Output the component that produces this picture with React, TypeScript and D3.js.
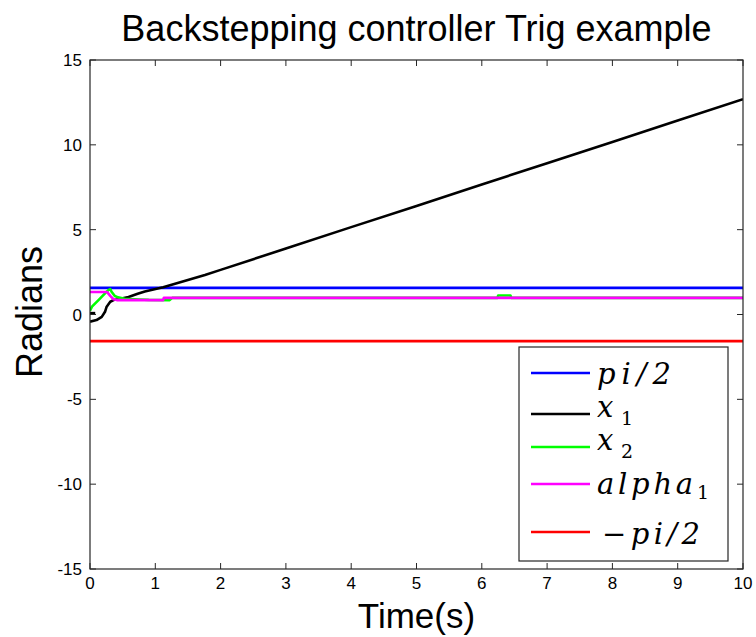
import React from "react";
import * as d3 from "d3";

// ---- data ----
const piHalfT = [0, 10];
const piHalfV = [1.5708, 1.5708];
const negPiHalfV = [-1.5708, -1.5708];

const x1T = [0, 0.1, 0.18, 0.23, 0.255, 0.31, 0.36, 0.43, 0.59, 0.73, 0.84, 1.12, 1.76, 2, 3, 4, 5, 6, 7, 8, 9, 10];
const x1V = [-0.42, -0.33, -0.14, 0.16, 0.46, 0.75, 0.85, 0.9, 1.03, 1.22, 1.36, 1.6, 2.33, 2.63, 3.89, 5.15, 6.4, 7.66, 8.92, 10.17, 11.43, 12.69];
const x1DashT = [0, 0.08];
const x1DashV = [0.08, 0.08];

const x2T = [0, 0.03, 0.13, 0.23, 0.28, 0.31, 0.33, 0.38, 0.43, 0.53, 0.76, 0.9, 1.22, 1.26, 6.24, 6.25, 6.44, 6.45, 10];
const x2V = [0.22, 0.46, 0.85, 1.25, 1.44, 1.5, 1.34, 1.09, 1.01, 0.93, 0.88, 0.86, 0.85, 0.98, 0.98, 1.12, 1.12, 0.98, 0.98];

const alphaT = [0, 0.26, 0.31, 0.36, 0.41, 1.12, 1.13, 10];
const alphaV = [1.33, 1.33, 1.1, 0.9, 0.85, 0.85, 0.98, 0.98];

const xTicks = [0, 1, 2, 3, 4, 5, 6, 7, 8, 9, 10];
const yTicks = [-15, -10, -5, 0, 5, 10, 15];

const titleText = "Backstepping controller Trig example";
const xLabel = "Time(s)";
const yLabel = "Radians";

const W = 756, H = 637;
const L = 90, R = 743, T = 60, B = 569;

export default function App() {
  const x = d3.scaleLinear().domain([0, 10]).range([L, R]);
  const y = d3.scaleLinear().domain([-15, 15]).range([B, T]);
  const line = d3.line<[number, number]>().x(d => x(d[0])).y(d => y(d[1]));
  const pts = (ts: number[], vs: number[]) => ts.map((t, i) => [t, vs[i]] as [number, number]);

  const series = [
    { d: pts(piHalfT, piHalfV), c: "#0000FF" },
    { d: pts(x1T, x1V), c: "#000000" },
    { d: pts(x1DashT, x1DashV), c: "#000000" },
    { d: pts(x2T, x2V), c: "#00FF00" },
    { d: pts(alphaT, alphaV), c: "#FF00FF" },
    { d: pts(piHalfT, negPiHalfV), c: "#FF0000" },
  ];

  const tickLen = 6;
  const axisColor = "#262626";
  const sans = "'Liberation Sans', Arial, sans-serif";
  const serif = "'DejaVu Serif', 'Liberation Serif', serif";
  const sub = 19;

  const legendItems = [
    { c: "#0000FF", y: 373, base: 384, len: 74, content: <tspan fontStyle="italic">pi/2</tspan> },
    { c: "#000000", y: 414, base: 417, len: 36, content: <><tspan fontStyle="italic">x</tspan><tspan fontSize={sub} dy={8}>1</tspan></> },
    { c: "#00FF00", y: 447, base: 450, len: 36, content: <><tspan fontStyle="italic">x</tspan><tspan fontSize={sub} dy={8}>2</tspan></> },
    { c: "#FF00FF", y: 484, base: 494, len: 112, content: <><tspan fontStyle="italic">alpha</tspan><tspan fontSize={sub} dy={5}>1</tspan></> },
    { c: "#FF0000", y: 532, base: 544, len: 98, content: <><tspan>−</tspan><tspan fontStyle="italic">pi/2</tspan></> },
  ];

  return (
    <svg width={W} height={H} style={{ position: "absolute", left: 0, top: 0, background: "#fff" }}>
      <rect x={0} y={0} width={W} height={H} fill="#fff" />
      <defs>
        <clipPath id="clip"><rect x={L} y={T} width={R - L} height={B - T} /></clipPath>
      </defs>
      {/* data lines */}
      <g clipPath="url(#clip)">
        {series.map((s, i) => (
          <path key={i} d={line(s.d) || ""} fill="none" stroke={s.c} strokeWidth={2.6} strokeLinejoin="round" />
        ))}
      </g>
      {/* frame */}
      <rect x={L} y={T} width={R - L} height={B - T} fill="none" stroke={axisColor} strokeWidth={1.2} />
      {/* x ticks */}
      {xTicks.map(t => (
        <g key={"xt" + t}>
          <line x1={x(t)} x2={x(t)} y1={B} y2={B - tickLen} stroke={axisColor} />
          <line x1={x(t)} x2={x(t)} y1={T} y2={T + tickLen} stroke={axisColor} />
          <text x={x(t)} y={589} textAnchor="middle" fontFamily={sans} fontSize={17} fill="#000">{t}</text>
        </g>
      ))}
      {/* y ticks */}
      {yTicks.map(t => (
        <g key={"yt" + t}>
          <line x1={L} x2={L + tickLen} y1={y(t)} y2={y(t)} stroke={axisColor} />
          <line x1={R} x2={R - tickLen} y1={y(t)} y2={y(t)} stroke={axisColor} />
          <text x={82} y={y(t) + 6} textAnchor="end" fontFamily={sans} fontSize={17} fill="#000">{t}</text>
        </g>
      ))}
      {/* legend */}
      <rect x={519} y={347} width={209} height={214} fill="#fff" stroke={axisColor} strokeWidth={1.2} />
      {legendItems.map((it, i) => (
        <g key={"lg" + i}>
          <line x1={531} x2={590} y1={it.y} y2={it.y} stroke={it.c} strokeWidth={2.6} />
          <text x={i === 4 ? 602 : 597} y={it.base} fontFamily={serif} fontSize={29} fill="#000"
            textLength={it.len} lengthAdjust="spacing">{it.content}</text>
        </g>
      ))}
      {/* titles */}
      <text x={(L + R) / 2} y={41} textAnchor="middle" fontFamily={sans} fontSize={36} fill="#000">{titleText}</text>
      <text x={(L + R) / 2} y={628} textAnchor="middle" fontFamily={sans} fontSize={35} fill="#000">{xLabel}</text>
      <text transform={`translate(42, 312) rotate(-90)`} textAnchor="middle" fontFamily={sans} fontSize={36} fill="#000">{yLabel}</text>
    </svg>
  );
}
